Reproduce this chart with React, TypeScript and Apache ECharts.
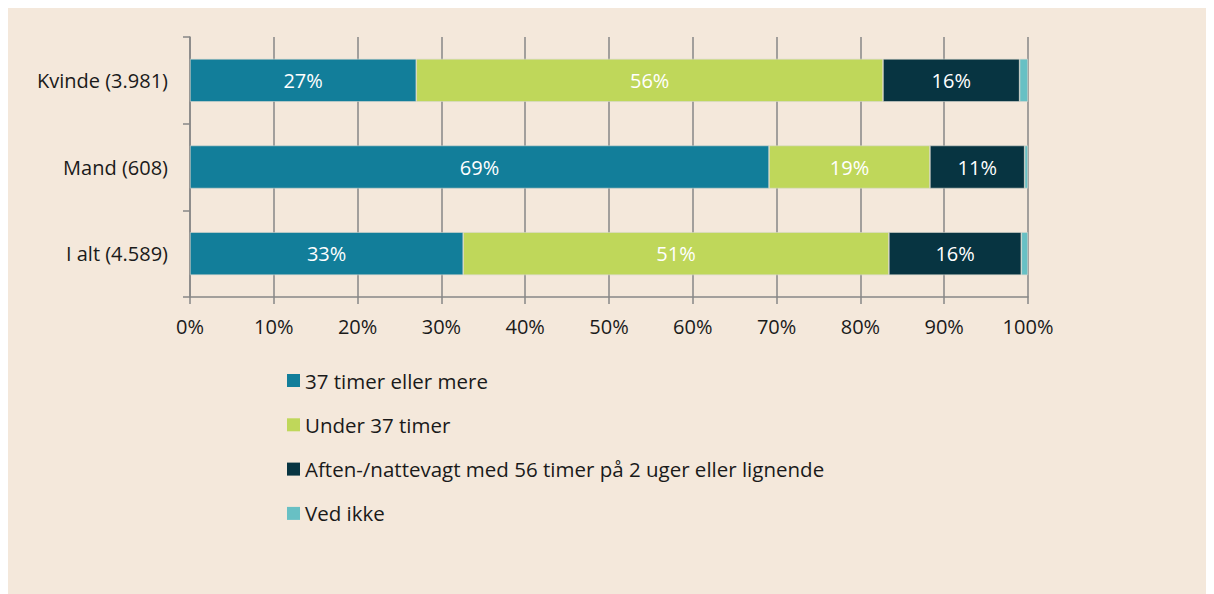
import React, { useEffect, useRef } from "react";
import * as echarts from "echarts";

const categories = ["Kvinde (3.981)", "Mand (608)", "I alt (4.589)"];
const seriesNames = [
  "37 timer eller mere",
  "Under 37 timer",
  "Aften-/nattevagt med 56 timer på 2 uger eller lignende",
  "Ved ikke",
];
const fullTime = [27.0, 69.1, 32.6];
const partTime = [55.7, 19.2, 50.8];
const nightShift = [16.3, 11.3, 15.8];
const dontKnow = [1.0, 0.4, 0.8];
const colors = ["#127e9a", "#bfd75a", "#073441", "#68c0c4"];
const xTicks = [0, 10, 20, 30, 40, 50, 60, 70, 80, 90, 100];

export default function App() {
  const ref = useRef<HTMLDivElement>(null);
  useEffect(() => {
    if (!ref.current) return;
    const chart = echarts.init(ref.current, undefined, { renderer: "svg" });
    const font = "'Open Sans', 'Noto Sans', sans-serif";
    const values = [fullTime, partTime, nightShift, dontKnow];
    chart.setOption({
      animation: false,
      backgroundColor: "#f4e8db",
      textStyle: { fontFamily: font },
      grid: { left: 182, top: 29, width: 838, height: 260, containLabel: false },
      legend: {
        orient: "vertical",
        left: 279,
        top: 362,
        padding: 0,
        itemWidth: 13,
        itemHeight: 13,
        itemGap: 23.3,
        icon: "rect",
        itemStyle: { borderWidth: 0 },
        textStyle: { fontSize: 20.5, color: "#1a1a1a", fontFamily: font, lineHeight: 20 },
        data: seriesNames,
      },
      xAxis: {
        type: "value",
        min: xTicks[0],
        max: xTicks[xTicks.length - 1],
        interval: 10,
        axisLine: { show: true, lineStyle: { color: "#878787", width: 1.5 } },
        axisTick: { show: true, length: 7, lineStyle: { color: "#878787", width: 1.5 } },
        splitLine: { show: true, lineStyle: { color: "#878787", width: 1.5 } },
        axisLabel: {
          formatter: "{value}%",
          fontSize: 20,
          color: "#1a1a1a",
          margin: 19,
          fontFamily: font,
        },
      },
      yAxis: {
        type: "category",
        inverse: true,
        data: categories,
        axisLine: { show: true, lineStyle: { color: "#878787", width: 1.5 } },
        axisTick: { show: true, length: 7, interval: 0, lineStyle: { color: "#878787", width: 1.5 } },
        axisLabel: { fontSize: 20, color: "#1a1a1a", margin: 22, fontFamily: font },
      },
      series: seriesNames.map((name, i) => ({
        name,
        type: "bar",
        stack: "total",
        barWidth: 43,
        data: values[i],
        itemStyle: { color: colors[i], borderColor: "#d8d8d0", borderWidth: 0.6 },
        label: {
          show: i < 3,
          position: "inside",
          color: "#ffffff",
          fontSize: 20,
          fontFamily: font,
          formatter: (p: any) => Math.round(p.value) + "%",
        },
      })),
    });
    return () => chart.dispose();
  }, []);
  return <div ref={ref} style={{ width: 1198, height: 586 }} />;
}
